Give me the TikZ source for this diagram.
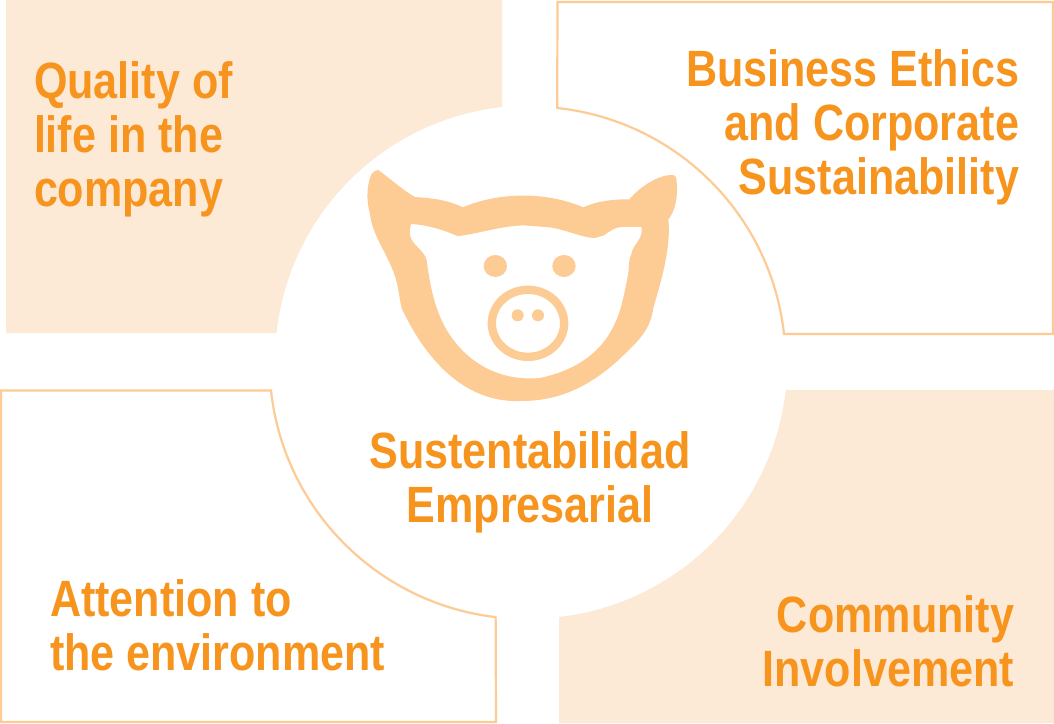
\documentclass[tikz,border=0pt]{standalone}
\usepackage{fontspec}
\setmainfont[FakeStretch=0.845]{Liberation Sans}
\definecolor{pale}{HTML}{FCE9D6}
\definecolor{pigc}{HTML}{FDCB94}
\definecolor{txt}{HTML}{F7941E}
\tikzset{
  label text/.style={text=txt,font=\fontsize{51}{54}\selectfont\bfseries,inner sep=0pt,outer sep=0pt},
  panel fill/.style={fill=pale,draw=none},
  panel line/.style={draw=pigc,line width=2.2pt,fill=white,line join=miter},
}
\begin{document}
\begin{tikzpicture}[x=1pt,y=-1pt]
\useasboundingbox (0,0) rectangle (1054,723);
\fill[white] (0,0) rectangle (1054,723);
% panels
\path[panel fill] (6,0) -- (502,0) -- (502,107) arc[start angle=96.3,end angle=173.8,radius=255pt] -- (6,333) -- cycle;
\path[panel line] (557.5,2) -- (1053,2) -- (1053,334) -- (784,334) arc[start angle=6.3,end angle=83.9,radius=255.5pt] -- cycle;
\path[panel line] (1,390.5) -- (271,390.5) arc[start angle=186.2,end angle=263.3,radius=256pt] -- (496,722) -- (1,722) -- cycle;
\path[panel fill] (786,390) -- (1054,390) -- (1054,723) -- (559,723) -- (559,617) arc[start angle=-83.5,end angle=-6.4,radius=257.6pt] -- cycle;
% pig
\begin{scope}[shift={(350,150)},x=0.3333pt,y=-0.3333pt]
\fill[pigc,even odd rule]
 (85,60) .. controls (125,90) and (165,125) .. (195,141)
 .. controls (250,145) and (295,150) .. (338,172)
 .. controls (450,125) and (590,125) .. (700,172)
 .. controls (745,152) and (790,148) .. (838,148)
 .. controls (870,110) and (925,75) .. (965,75)
 .. controls (975,75) and (980,80) .. (980,95)
 .. controls (985,140) and (975,185) .. (955,208)
 .. controls (965,300) and (925,420) .. (910,475)
 .. controls (900,540) and (870,570) .. (800,635)
 .. controls (710,715) and (620,753) .. (515,753)
 .. controls (370,760) and (245,665) .. (155,475)
 .. controls (145,430) and (145,400) .. (130,365)
 .. controls (105,300) and (65,250) .. (60,190)
 .. controls (45,140) and (55,90) .. (65,72)
 .. controls (70,65) and (78,60) .. (85,60) -- cycle
 (183,222) .. controls (235,225) and (280,240) .. (323,258)
 .. controls (370,255) and (450,228) .. (520,226)
 -- (600,232)
 .. controls (650,240) and (700,264) .. (735,264)
 -- (762,256)
 .. controls (785,240) and (795,231) .. (820,231)
 -- (875,231)
 .. controls (880,270) and (850,280) .. (845,310)
 .. controls (835,330) and (838,350) .. (835,370)
 .. controls (825,420) and (815,480) .. (795,520)
 .. controls (750,620) and (660,665) .. (570,684)
 .. controls (450,695) and (350,640) .. (290,540)
 .. controls (255,480) and (240,410) .. (230,330)
 .. controls (222,300) and (185,285) .. (180,255)
 .. controls (178,245) and (180,235) .. (183,222) -- cycle;
\fill[pigc] (436,348) ellipse[x radius=35pt*0.3333,y radius=33pt*0.3333];
\fill[pigc] (642,348) ellipse[x radius=35pt*0.3333,y radius=33pt*0.3333];
\fill[pigc] (503,496) circle[radius=18pt*0.3333];
\fill[pigc] (564,496) circle[radius=18pt*0.3333];
\draw[pigc,line width=8.3pt] (534,520) ellipse[x radius=108.5pt*0.3333,y radius=100.5pt*0.3333];
\end{scope}
% labels
\node[label text,anchor=base west,align=left] (q) at (34,206) {Quality of\\life in the\\company};
\node[label text,anchor=base east,align=right] (b) at (1019,194) {Business Ethics\\and Corporate\\Sustainability};
\node[label text,anchor=base,align=center] (s) at (530,522) {Sustentabilidad\\Empresarial};
\node[label text,anchor=base west,align=left] (a) at (50,670) {Attention to\\the environment};
\node[label text,anchor=base east,align=right] (c) at (1014,686) {Community\\Involvement};
\end{tikzpicture}
\end{document}
